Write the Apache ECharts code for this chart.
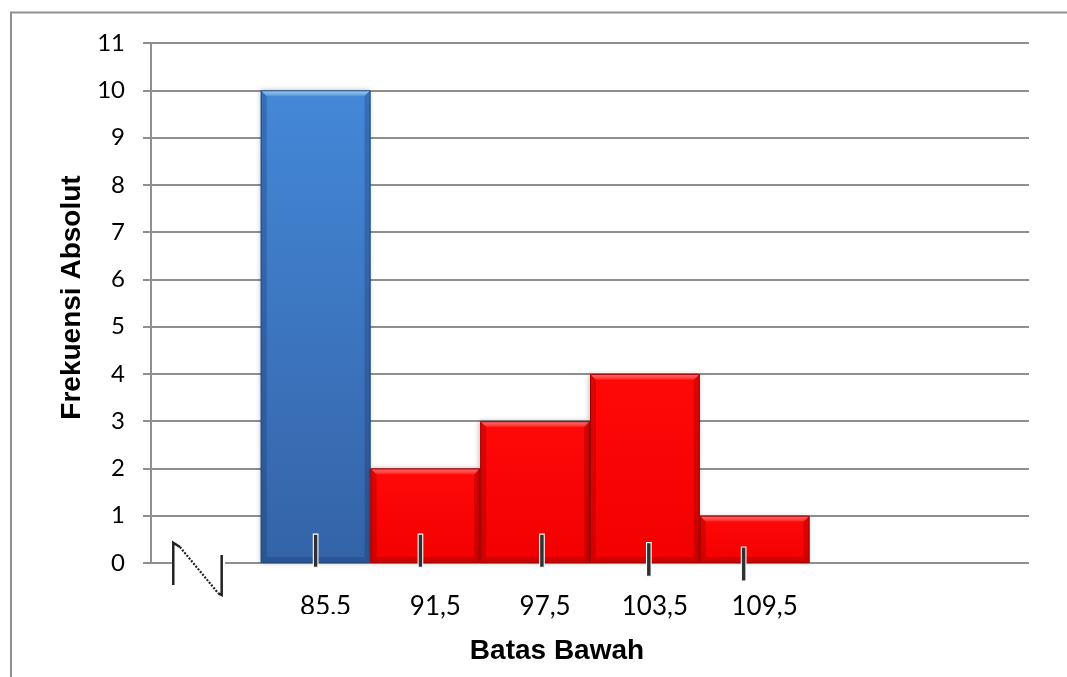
<!DOCTYPE html>
<html><head><meta charset="utf-8">
<script src="https://cdn.jsdelivr.net/npm/echarts@6/dist/echarts.min.js"></script>
<style>html,body{margin:0;padding:0;background:#fff}#c{width:1067px;height:677px}</style>
</head><body><div id="c"></div>
<script>
// ---- data ----
const categories = ['', '85,5', '91,5', '97,5', '103,5', '109,5', '', ''];
const frequencies = [null, 10, 2, 3, 4, 1, null, null];
const yMin = 0, yMax = 11, yStep = 1;
const highlightIndex = 1; // the blue bar
// hand-drawn tick marks over the bars: [category, offset (band widths), top value, bottom value]
const tickMarks = [
  [1, 0.0, 0.61, -0.09],
  [2, -0.045, 0.61, -0.09],
  [3, 0.062, 0.61, -0.09],
  [4, 0.036, 0.43, -0.28],
  [5, -0.1, 0.34, -0.38]
];
// axis-break symbol inside first band: [band fraction, value]
const breakLeft = [[0.203, -0.465], [0.203, 0.429], [0.264, 0.338]];
const breakDiag = [[0.264, 0.338], [0.613, -0.641]];
const breakRight = [[0.613, -0.641], [0.644, -0.677], [0.644, 0.169]];
const breakGap = [0.19, 0.675];

const GRID = '#8f8f8f';

function bandX(api, cat, f) {
  const w = api.size([1, 0])[0];
  return api.coord([cat, 0])[0] - w / 2 + f * w;
}

function renderBar(params, api) {
  const idx = api.value(0), v = api.value(1);
  if (v == null || isNaN(v)) return;
  const top = api.coord([idx, v]), base = api.coord([idx, 0]);
  const w = api.size([1, 0])[0];
  const x0 = top[0] - w / 2, x1 = top[0] + w / 2, y0 = top[1], y1 = base[1];
  const blue = idx === highlightIndex;
  const pal = blue
    ? {top: '#4488d8', bottom: '#3463a7', light: 'rgba(150,210,255,0.85)', dark: 'rgba(15,40,85,0.25)', edge: '#25497c'}
    : {top: '#ff0808', bottom: '#f20000', light: 'rgba(255,130,130,0.7)', dark: 'rgba(110,0,0,0.25)', edge: '#a00000'};
  const b = 6;
  return {type: 'group', children: [
    {type: 'rect', shape: {x: x0, y: y0, width: w, height: y1 - y0},
      style: {fill: {type: 'linear', x: 0, y: 0, x2: 0, y2: 1, colorStops: [{offset: 0, color: pal.top}, {offset: 1, color: pal.bottom}]},
        shadowBlur: 5, shadowColor: 'rgba(0,0,0,0.25)', shadowOffsetX: -1}},
    {type: 'polygon', shape: {points: [[x0, y0], [x1, y0], [x1 - b, y0 + b], [x0 + b, y0 + b]]},
      style: {fill: {type: 'linear', x: 0, y: 0, x2: 0, y2: 1, colorStops: [{offset: 0, color: pal.light}, {offset: 1, color: 'rgba(255,255,255,0.05)'}]}}},
    {type: 'polygon', shape: {points: [[x0, y0], [x0 + b, y0 + b], [x0 + b, y1 - b], [x0, y1]]}, style: {fill: pal.dark}},
    {type: 'polygon', shape: {points: [[x1, y0], [x1 - b, y0 + b], [x1 - b, y1 - b], [x1, y1]]}, style: {fill: pal.dark}},
    {type: 'polygon', shape: {points: [[x0, y1], [x0 + b, y1 - b], [x1 - b, y1 - b], [x1, y1]]}, style: {fill: pal.dark}},
    {type: 'rect', shape: {x: x0 + 0.5, y: y0 + 0.5, width: w - 1, height: y1 - y0 - 1}, style: {fill: 'none', stroke: pal.edge, lineWidth: 1}}
  ]};
}

function renderTick(params, api) {
  const c = api.value(0), dx = api.value(1), t = api.value(2), bt = api.value(3);
  const w = api.size([1, 0])[0];
  const p = api.coord([c, t]), q = api.coord([c, bt]);
  const x = p[0] + dx * w;
  return {type: 'rect', shape: {x: x - 2.3, y: p[1], width: 4.6, height: q[1] - p[1]},
    style: {fill: '#303030', stroke: '#ffffff', lineWidth: 1.1}};
}

function renderBreak(params, api) {
  const pt = (a) => [bandX(api, 0, a[0]), api.coord([0, a[1]])[1]];
  const y0 = api.coord([0, 0])[1];
  const gx0 = bandX(api, 0, breakGap[0]), gx1 = bandX(api, 0, breakGap[1]);
  const ln = {stroke: '#222222', lineWidth: 2.5, fill: 'none'};
  return {type: 'group', children: [
    {type: 'rect', shape: {x: gx0, y: y0 - 3, width: gx1 - gx0, height: 6}, style: {fill: '#ffffff'}},
    {type: 'polyline', shape: {points: breakLeft.map(pt)}, style: ln},
    {type: 'polyline', shape: {points: breakDiag.map(pt)}, style: {stroke: '#222222', lineWidth: 2.2, lineDash: [2, 1.5], fill: 'none'}},
    {type: 'polyline', shape: {points: breakRight.map(pt)}, style: ln}
  ]};
}

// the first tick label is cut off at its lower edge in the reference
function renderLabelCut(params, api) {
  const w = api.size([1, 0])[0];
  const c = api.coord([highlightIndex, 0]);
  return {type: 'rect', shape: {x: c[0] - w / 2, y: c[1] + 51, width: w, height: 14}, style: {fill: '#ffffff'}};
}

const chart = echarts.init(document.getElementById('c'), null, {renderer: 'canvas'});
chart.setOption({
  animation: false,
  backgroundColor: '#ffffff',
  grid: {left: 151, right: 38, top: 43, bottom: 114, containLabel: false, outerBoundsMode: 'none'},
  graphic: [{type: 'rect', silent: true, z: -10, shape: {x: 11, y: 12.5, width: 1200, height: 800},
    style: {fill: 'none', stroke: GRID, lineWidth: 2}}],
  xAxis: {
    type: 'category', data: categories,
    axisLine: {show: false}, axisTick: {show: false}, splitLine: {show: false},
    axisLabel: {interval: 0, margin: 31, fontFamily: 'Lato', fontSize: 26, color: '#000', padding: [0, 0, 0, 20]},
    name: 'Batas Bawah', nameLocation: 'middle', nameGap: 74,
    nameTextStyle: {fontFamily: 'Liberation Sans', fontWeight: 'bold', fontSize: 28, color: '#000', padding: [0, 66, 0, 0]}
  },
  yAxis: {
    type: 'value', min: yMin, max: yMax, interval: yStep,
    axisLine: {show: true, lineStyle: {color: GRID, width: 2}},
    axisTick: {show: true, length: 8, lineStyle: {color: GRID, width: 2}},
    splitLine: {show: true, lineStyle: {color: GRID, width: 2}},
    axisLabel: {margin: 26, fontFamily: 'Lato', fontSize: 24, color: '#000'},
    name: 'Frekuensi Absolut', nameLocation: 'middle', nameGap: 55,
    nameTextStyle: {fontFamily: 'Liberation Sans', fontWeight: 'bold', fontSize: 28, color: '#000', padding: [0, 0, 0, 11]}
  },
  series: [
    {type: 'custom', name: 'bars', renderItem: renderBar, encode: {x: 0, y: 1}, z: 2,
      data: frequencies.map((v, i) => [i, v == null ? NaN : v])},
    {type: 'custom', name: 'ticks', renderItem: renderTick, encode: {x: 0, y: 2}, z: 3, clip: false,
      data: tickMarks},
    {type: 'custom', name: 'break', renderItem: renderBreak, encode: {x: 0, y: 1}, z: 4, clip: false,
      data: [[0, 0]]},
    {type: 'custom', name: 'cut', renderItem: renderLabelCut, encode: {x: 0, y: 1}, z: 5, clip: false,
      data: [[highlightIndex, 0]]}
  ]
});
</script></body></html>
